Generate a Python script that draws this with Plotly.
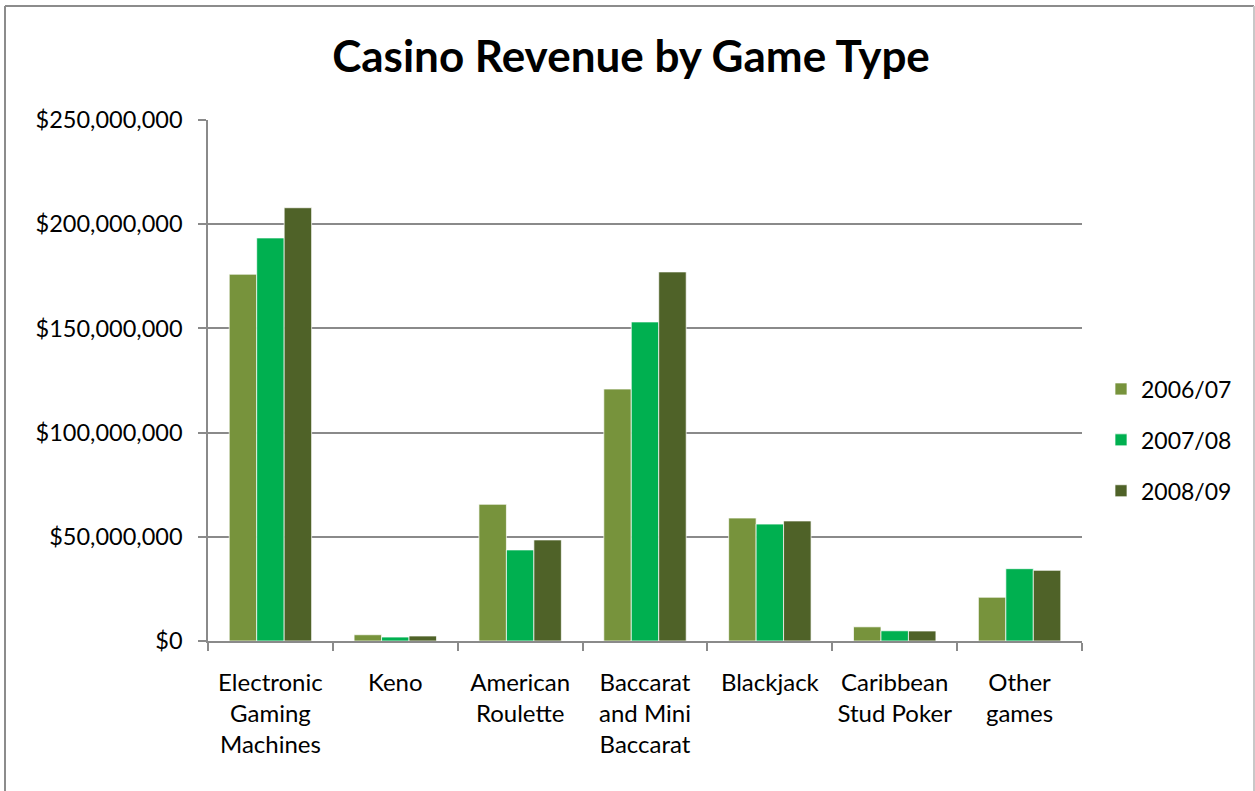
import plotly.graph_objects as go

# Revenue by game type for three financial years (AUD)
categories = [
    "Electronic<br>Gaming<br>Machines",
    "Keno",
    "American<br>Roulette",
    "Baccarat<br>and Mini<br>Baccarat",
    "Blackjack",
    "Caribbean<br>Stud Poker",
    "Other<br>games",
]
rev_2006_07 = [176.0e6, 3.0e6, 65.6e6, 120.9e6, 59.0e6, 6.8e6, 21.0e6]
rev_2007_08 = [193.4e6, 1.9e6, 43.7e6, 153.1e6, 56.1e6, 4.9e6, 34.7e6]
rev_2008_09 = [207.9e6, 2.4e6, 48.5e6, 177.1e6, 57.6e6, 4.8e6, 33.9e6]
series_names = ["2006/07", "2007/08", "2008/09"]
y_ticks = [0, 50e6, 100e6, 150e6, 200e6, 250e6]

colors = ["#77933C", "#00B050", "#4F6228"]
FONT = "Lato, 'Open Sans', sans-serif"
GRID = "#8a8a8a"

fig = go.Figure()
for name, vals, col in zip(series_names, [rev_2006_07, rev_2007_08, rev_2008_09], colors):
    fig.add_trace(go.Bar(
        x=categories, y=vals, name=name, legendgroup=name,
        marker=dict(color=col, line=dict(color="rgba(255,255,255,0.7)", width=1)),
    ))

# plot-area geometry (px) used to place the outer frame in paper units
L, R, T, B = 208, 1082, 120, 641
W, H = R - L, B - T

def px_x(p):
    return (p - L) / W

def px_y(p):
    return (B - p) / H

frame = [
    dict(x0=px_x(5), x1=px_x(5), y0=px_y(6), y1=px_y(800), color="#8c8c8c"),
    dict(x0=px_x(5), x1=px_x(1254), y0=px_y(6), y1=px_y(6), color="#8c8c8c"),
    dict(x0=px_x(1254), x1=px_x(1254), y0=px_y(6), y1=px_y(800), color="#c8c8c8"),
]
for f in frame:
    fig.add_shape(type="line", xref="paper", yref="paper",
                  x0=f["x0"], x1=f["x1"], y0=f["y0"], y1=f["y1"],
                  line=dict(color=f["color"], width=2), layer="above")

fig.update_layout(
    width=1255, height=791,
    margin=dict(l=L, r=1255 - R, t=T, b=791 - B, pad=0),
    paper_bgcolor="white", plot_bgcolor="white",
    font=dict(family=FONT, size=23, color="#000000"),
    title=dict(text="<b>Casino Revenue by Game Type</b>",
               font=dict(family=FONT, size=44, color="#000000"),
               x=631 / 1255, xanchor="center", xref="container",
               y=1 - 57 / 791, yanchor="middle", yref="container"),
    barmode="group", bargap=0.34, bargroupgap=0,
    showlegend=True,
    legend=dict(xref="container", yref="container",
                x=1101 / 1255, xanchor="left",
                y=1 - 440 / 791, yanchor="middle",
                font=dict(family=FONT, size=23, color="#000000"),
                tracegroupgap=18, traceorder="grouped",
                bgcolor="rgba(0,0,0,0)", itemwidth=30),
    xaxis=dict(
        type="category", tickson="boundaries", ticks="outside", ticklen=8,
        tickcolor=GRID, tickwidth=1.5,
        showline=True, linecolor=GRID, linewidth=1.5,
        showgrid=False, ticklabelstandoff=19,
        tickfont=dict(family=FONT, size=24, color="#000000"),
    ),
    yaxis=dict(
        range=[0, 250e6], tickvals=y_ticks, tickformat="$,.0f",
        ticks="outside", ticklen=8, tickcolor=GRID, tickwidth=1.5,
        showline=True, linecolor=GRID, linewidth=1.5,
        showgrid=True, gridcolor=GRID, gridwidth=1.5,
        zeroline=False, ticklabelstandoff=11,
        tickfont=dict(family=FONT, size=23.5, color="#000000"),
    ),
)

fig.write_html("out.html")
